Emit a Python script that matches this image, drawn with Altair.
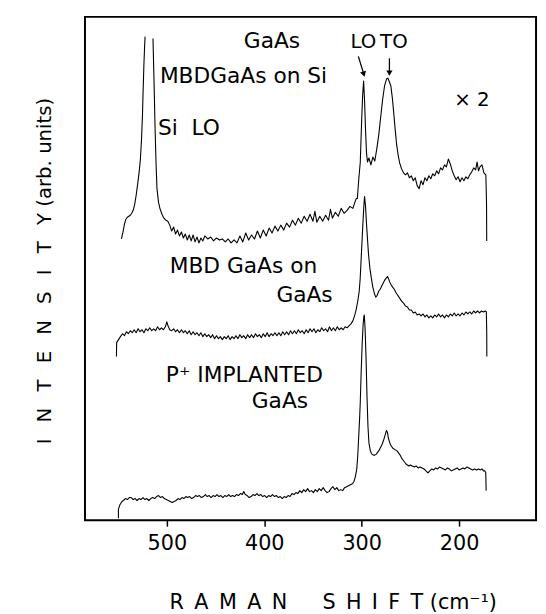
import altair as alt
import pandas as pd

# ---------------- data ----------------
# Top spectrum: MBD GaAs on Si (x2) - left flank of the clipped Si LO peak
si_left_shift = [546.6, 545.0, 543.5, 542.0, 540.5, 539.0, 537.5, 536.0, 534.5, 533.0,
                 531.5, 530.0, 528.5, 527.2, 526.0, 525.0, 524.3, 523.5, 522.8, 522.3]
si_left_int = [285, 292, 300, 305, 307, 308, 309, 311, 314, 320,
               329, 340, 352, 365, 385, 410, 436, 462, 480, 490]

# Top spectrum: right flank of Si peak down to the end
top_shift = [514.2, 513.0, 512.2, 511.0, 510.1, 508.5, 507.1, 505.0, 503.0, 501.0,
             499.0, 497.0, 495.0, 493.0, 491.0, 489.0, 487.0, 485.0, 483.0, 481.0,
             479.0, 477.0, 475.0, 473.0, 471.0, 469.0, 467.0, 465.0, 463.0, 461.0,
             458.0, 455.0, 452.0, 449.0, 446.0, 443.0, 440.0, 437.0, 434.0, 431.0,
             428.0, 425.0, 422.0, 419.0, 416.0, 413.0, 410.0, 407.0, 404.0, 401.0,
             398.0, 395.0, 392.0, 389.0, 386.0, 383.0, 380.0, 377.0, 374.0, 371.0,
             368.0, 365.0, 362.0, 359.0, 356.0, 353.0, 350.0, 348.0, 346.0, 343.0,
             340.0, 337.0, 334.0, 332.0, 330.0, 327.0, 324.0, 321.0, 318.0, 315.0,
             312.0, 309.0, 307.0, 305.5, 304.4, 303.0, 301.4, 300.0, 299.0, 298.0,
             297.0, 296.0, 295.0, 294.0, 292.5, 290.5, 288.5, 286.5, 284.5, 282.5,
             280.5, 278.5, 276.5, 274.5, 273.0, 271.5, 270.0, 268.5, 267.0, 265.5,
             264.0, 262.5, 261.0, 259.0, 257.0, 255.0, 253.0, 251.0, 249.0, 247.0,
             245.0, 243.0, 241.0, 239.0, 237.0, 235.0, 233.0, 231.0, 229.0, 227.0,
             225.0, 223.0, 221.0, 219.0, 217.0, 215.0, 213.0, 211.0, 209.0, 207.0,
             205.0, 203.0, 201.0, 199.0, 197.0, 195.0, 193.0, 191.0, 189.0, 187.0,
             185.0, 183.0, 181.5, 180.0, 178.5, 176.5, 174.5, 172.5, 171.8, 171.6]
top_int = [488, 440, 403, 360, 336, 322, 316, 310, 306, 304,
           303, 299, 293, 297, 290, 294, 288, 292, 286, 290,
           284, 289, 283, 289, 282, 287, 281, 286, 283, 288,
           285, 287, 283, 286, 284, 285, 282, 285, 281, 284,
           281, 288, 282, 291, 284, 289, 285, 293, 286, 294,
           288, 296, 291, 298, 293, 299, 294, 301, 297, 304,
           299, 306, 301, 308, 303, 310, 303, 313, 302, 308,
           303, 309, 304, 315, 306, 312, 308, 316, 311, 314,
           318, 316, 322, 326, 326, 345, 363, 405, 430, 445,
           425, 395, 372, 363, 367, 360, 368, 364, 376, 390,
           408, 426, 440, 447, 448, 444, 440, 428, 412, 395,
           380, 370, 362, 356, 352, 350, 352, 347, 349, 344,
           347, 339, 336, 344, 340, 347, 344, 349, 346, 351,
           349, 354, 351, 357, 355, 360, 358, 366, 361, 354,
           349, 345, 348, 343, 347, 344, 348, 346, 350, 353,
           357, 355, 363, 354, 358, 360, 352, 350, 320, 283]

# Middle spectrum: MBD GaAs on GaAs
mid_shift = [551.7, 551.5, 547.6, 545.5, 543.5, 541.5, 539.5, 537.5, 535.5, 533.5,
             531.5, 529.5, 527.5, 525.5, 523.5, 521.5, 519.5, 517.5, 515.5, 513.5,
             511.5, 509.5, 507.5, 505.5, 503.5, 501.5, 500.0, 498.8, 497.0, 495.0,
             493.0, 491.0, 489.0, 487.0, 485.0, 483.0, 481.0, 479.0, 477.0, 475.0,
             473.0, 471.0, 469.0, 467.0, 465.0, 463.0, 461.0, 459.0, 457.0, 455.0,
             453.0, 451.0, 449.0, 447.0, 445.0, 443.0, 441.0, 439.0, 437.0, 435.0,
             433.0, 431.0, 429.0, 427.0, 425.0, 423.0, 421.0, 419.0, 417.0, 415.0,
             413.0, 411.0, 409.0, 407.0, 405.0, 403.0, 401.0, 399.0, 397.0, 395.0,
             393.0, 391.0, 389.0, 387.0, 385.0, 383.0, 381.0, 379.0, 377.0, 375.0,
             373.0, 371.0, 369.0, 367.0, 365.0, 363.0, 361.0, 359.0, 357.0, 355.0,
             353.0, 351.0, 349.0, 347.0, 345.0, 343.0, 341.0, 339.0, 337.0, 335.0,
             333.0, 331.0, 329.0, 327.0, 325.0, 323.0, 321.0, 319.0, 317.0, 315.0,
             313.0, 311.0, 309.0, 307.0, 305.5, 304.0, 302.5, 301.5, 300.5, 299.5,
             298.5, 297.5, 297.0, 296.0, 295.0, 294.0, 293.0, 291.5, 290.0, 288.5,
             287.0, 285.5, 284.0, 282.5, 281.0, 279.5, 278.0, 276.5, 275.0, 273.5,
             272.5, 271.0, 269.5, 268.0, 266.5, 265.0, 263.0, 261.0, 259.0, 257.0,
             255.0, 253.0, 251.0, 249.0, 247.0, 245.0, 243.0, 241.0, 239.0, 237.0,
             235.0, 233.0, 231.0, 229.0, 227.0, 225.0, 223.0, 221.0, 219.0, 217.0,
             215.0, 213.0, 211.0, 209.0, 207.0, 205.0, 203.0, 201.0, 199.0, 197.0,
             195.0, 193.0, 191.0, 189.0, 187.0, 185.0, 183.0, 181.0, 179.0, 177.0,
             175.0, 173.0, 172.0, 171.6, 171.5]
mid_int = [166, 180, 186, 189, 187, 191, 189, 192, 190, 193,
           190, 194, 191, 193, 190, 194, 192, 195, 192, 194,
           192, 196, 193, 195, 193, 196, 201, 197, 193, 192,
           194, 191, 193, 190, 193, 190, 192, 189, 192, 188,
           191, 188, 190, 187, 190, 186, 189, 186, 188, 185,
           188, 184, 187, 184, 186, 183, 186, 184, 187, 183,
           186, 184, 187, 184, 188, 185, 187, 184, 188, 185,
           188, 185, 189, 186, 188, 185, 189, 186, 190, 186,
           189, 187, 190, 187, 190, 187, 191, 188, 191, 188,
           192, 189, 192, 189, 193, 190, 192, 189, 193, 190,
           194, 191, 194, 190, 193, 191, 195, 192, 194, 191,
           196, 192, 195, 192, 196, 193, 195, 193, 196, 195,
           197, 199, 202, 208, 214, 222, 232, 245, 265, 285,
           305, 322, 328, 318, 300, 285, 270, 255, 245, 236,
           230, 226, 228, 232, 234, 237, 240, 243, 245, 247,
           245, 241, 238, 236, 234, 231, 228, 225, 222, 220,
           217, 216, 213, 213, 210, 211, 208, 209, 207, 209,
           206, 208, 205, 207, 205, 208, 206, 209, 206, 208,
           205, 208, 206, 209, 207, 210, 207, 209, 207, 210,
           208, 211, 209, 211, 209, 212, 210, 212, 210, 212,
           211, 212, 211, 190, 166]

# Bottom spectrum: P+ implanted GaAs
bot_shift = [549.7, 549.7, 548.0, 546.0, 544.6, 542.5, 540.5, 538.5, 536.5, 534.5,
             532.5, 530.5, 528.5, 526.5, 524.5, 522.5, 520.5, 518.5, 516.5, 514.5,
             512.5, 510.5, 508.5, 506.5, 504.5, 502.5, 500.5, 498.5, 496.5, 494.5,
             492.5, 490.5, 488.5, 486.5, 484.5, 482.5, 480.5, 478.5, 476.5, 474.5,
             472.5, 470.5, 468.5, 466.5, 464.5, 462.5, 460.5, 458.5, 456.5, 454.5,
             452.5, 450.5, 448.5, 446.5, 444.5, 442.5, 440.5, 438.5, 436.5, 434.5,
             432.5, 430.5, 428.5, 426.5, 424.5, 422.5, 421.0, 419.5, 417.5, 415.5,
             413.5, 411.5, 409.5, 407.5, 405.5, 403.5, 401.5, 399.5, 397.5, 395.5,
             393.5, 391.5, 389.5, 387.5, 385.5, 383.5, 381.5, 379.5, 377.5, 375.5,
             373.5, 371.5, 369.5, 367.5, 365.5, 363.5, 361.5, 359.5, 357.5, 355.5,
             353.5, 351.5, 349.5, 347.5, 345.5, 343.5, 341.5, 339.5, 337.5, 335.5,
             333.5, 331.5, 329.5, 327.5, 325.5, 323.5, 321.5, 319.5, 317.5, 315.5,
             313.5, 311.5, 309.5, 308.0, 306.5, 305.0, 304.0, 303.0, 302.0, 301.4,
             300.5, 299.5, 298.5, 297.8, 297.3, 296.5, 295.5, 294.5, 293.5, 292.5,
             291.0, 289.5, 288.0, 286.5, 285.0, 283.5, 282.0, 280.5, 279.0, 277.5,
             276.0, 274.5, 273.5, 272.5, 271.0, 269.5, 268.0, 266.5, 265.0, 263.5,
             262.0, 260.5, 259.0, 257.5, 256.0, 254.5, 253.0, 251.5, 250.0, 248.0,
             246.0, 244.0, 242.0, 240.0, 238.0, 236.0, 234.0, 232.0, 230.0, 228.0,
             226.0, 224.0, 222.0, 220.0, 218.0, 216.0, 214.0, 212.0, 210.0, 208.0,
             206.0, 204.0, 202.0, 200.0, 198.0, 196.0, 194.0, 192.0, 190.0, 188.0,
             186.0, 184.0, 182.0, 180.0, 178.0, 176.5, 175.0, 173.5, 172.6, 172.2]
bot_int = [2, 11, 16, 19, 20, 22, 21, 23, 23, 21,
           22, 20, 22, 21, 23, 21, 22, 20, 22, 23,
           22, 24, 25, 23, 24, 22, 21, 20, 19, 18,
           19, 20, 22, 21, 23, 22, 24, 23, 24, 22,
           23, 25, 24, 25, 23, 24, 26, 24, 25, 23,
           25, 24, 26, 24, 25, 23, 25, 24, 26, 24,
           25, 24, 26, 25, 27, 26, 29, 26, 25, 23,
           24, 26, 25, 27, 25, 26, 24, 25, 23, 25,
           24, 26, 24, 25, 23, 24, 22, 24, 23, 25,
           24, 27, 26, 28, 27, 30, 28, 31, 29, 32,
           29, 30, 28, 31, 29, 32, 30, 33, 30, 28,
           29, 32, 34, 31, 33, 30, 31, 30, 33, 34,
           35, 36, 37, 39, 44, 52, 65, 85, 105, 120,
           150, 178, 198, 206, 208, 195, 165, 125, 95, 78,
           70, 67, 66, 66, 67, 69, 71, 74, 77, 81,
           86, 91, 89, 83, 78, 75, 73, 72, 71, 70,
           68, 66, 63, 61, 59, 57, 56, 55, 56, 55,
           54, 55, 53, 54, 53, 52, 50, 48, 50, 52,
           51, 53, 52, 54, 53, 52, 51, 53, 52, 50,
           51, 52, 53, 51, 52, 53, 52, 54, 53, 52,
           51, 52, 51, 52, 51, 52, 50, 50, 48, 30]

x_tick_values = [500, 400, 300, 200]

# annotation texts (label, shift, intensity)
left_labels = ["GaAs", "MBDGaAs on Si", "Si\u00a0 LO", "MBD GaAs on", "GaAs",
               "P\u207a IMPLANTED", "GaAs"]
left_x = [420.9, 507.1, 509.1, 497.0, 387.5, 501.0, 412.8]
left_y = [478, 443, 390, 250, 221, 140, 114]

center_labels = ["LO", "TO", "\u00d7 2"]
center_x = [298.3, 266.9, 186.8]
center_y = [478, 478, 420]

# arrows (start shift/intensity -> end shift/intensity)
arrow_x1 = [303.4, 271.5]
arrow_y1 = [470, 468]
arrow_x2 = [297.8, 271.5]
arrow_y2 = [452, 453]
arrow_angle = [343, 0]

# ---------------- build tables ----------------
rows = []
for seg, xs, ys in [("si_left", si_left_shift, si_left_int),
                    ("top", top_shift, top_int),
                    ("mid", mid_shift, mid_int),
                    ("bot", bot_shift, bot_int)]:
    for i, (xv, yv) in enumerate(zip(xs, ys)):
        rows.append({"seg": seg, "shift": xv, "intensity": yv, "idx": i})
spec_df = pd.DataFrame(rows)

left_df = pd.DataFrame({"label": left_labels, "shift": left_x, "intensity": left_y})
center_df = pd.DataFrame({"label": center_labels, "shift": center_x, "intensity": center_y})
arrow_df = pd.DataFrame({"x1": arrow_x1, "y1": arrow_y1, "x2": arrow_x2, "y2": arrow_y2,
                         "ang": arrow_angle})

FONT = "DejaVu Sans"
xscale = alt.Scale(domain=[584, 121], nice=False, zero=False)
yscale = alt.Scale(domain=[0, 510], nice=False, zero=False)

x_title = ("R\u2002A\u2002M\u2002A\u2002N\u2003\u2002\u2009"
           "S\u2002H\u2002I\u2002F\u2002T (cm\u207b\u00b9)")
gap = "\u2002\u00a0"
y_title = gap.join(list("INTENSITY")) + " (arb. units)"

x_enc = alt.X("shift:Q", scale=xscale,
              axis=alt.Axis(values=x_tick_values, title=x_title, grid=False, domain=False,
                            ticks=True, tickSize=6, tickWidth=1.5, tickColor="black",
                            labelFont=FONT, labelFontSize=21, labelColor="black",
                            labelPadding=7, format="d",
                            titleFont=FONT, titleFontSize=21, titleFontWeight="normal",
                            titleColor="black", titleX=251, titleY=89,
                            titleAlign="center", titleBaseline="alphabetic"))
y_enc = alt.Y("intensity:Q", scale=yscale,
              axis=alt.Axis(title=y_title, grid=False, domain=False, ticks=False,
                            labels=False, titleFont=FONT, titleFontSize=20,
                            titleFontWeight="normal", titleColor="black",
                            titleAngle=270, titleX=-35, titleY=257,
                            titleAlign="center", titleBaseline="alphabetic"))

lines = alt.Chart(spec_df).mark_line(color="black", strokeWidth=1.1,
                                     strokeJoin="round").encode(
    x=x_enc, y=y_enc, detail="seg:N", order="idx:Q")

left_text = alt.Chart(left_df).mark_text(align="left", baseline="alphabetic",
                                         font=FONT, fontSize=22, color="black").encode(
    x=alt.X("shift:Q", scale=xscale), y=alt.Y("intensity:Q", scale=yscale),
    text="label:N")

center_text = alt.Chart(center_df).mark_text(align="center", baseline="alphabetic",
                                             font=FONT, fontSize=20, color="black").encode(
    x=alt.X("shift:Q", scale=xscale), y=alt.Y("intensity:Q", scale=yscale),
    text="label:N")

arrow_lines = alt.Chart(arrow_df).mark_rule(color="black", strokeWidth=1.3).encode(
    x=alt.X("x1:Q", scale=xscale), y=alt.Y("y1:Q", scale=yscale),
    x2="x2:Q", y2="y2:Q")

arrow_heads = alt.Chart(arrow_df).mark_point(shape="triangle-down", filled=True,
                                             color="black", size=40, opacity=1).encode(
    x=alt.X("x2:Q", scale=xscale), y=alt.Y("y2:Q", scale=yscale),
    angle=alt.Angle("ang:Q", scale=None))

chart = alt.layer(lines, left_text, center_text, arrow_lines, arrow_heads).properties(
    width=457, height=510,
    autosize=alt.AutoSizeParams(type="none"),
    padding={"left": 78, "top": 5, "right": 2, "bottom": 91},
    background="white",
).configure_view(stroke="black", strokeWidth=2)

chart.save("out.html", embed_options={"renderer": "svg", "actions": False})
